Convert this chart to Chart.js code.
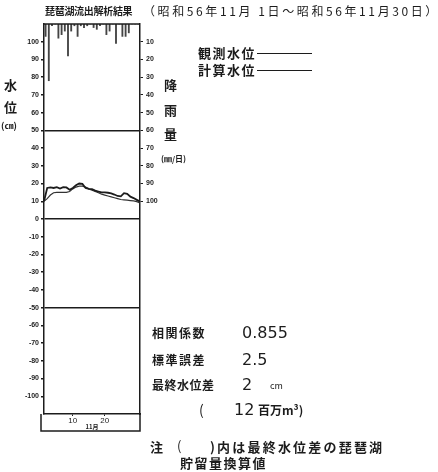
<!DOCTYPE html>
<html>
<head>
<meta charset="utf-8">
<script src="https://cdn.jsdelivr.net/npm/chart.js@4/dist/chart.umd.min.js"></script>
<style>
  html, body { margin: 0; padding: 0; background: #fff; }
  #wrap { position: relative; width: 438px; height: 472px; overflow: hidden;
          font-family: "Noto Sans CJK JP", sans-serif; color: #1c1c1c; }
  #c { position: absolute; left: 0; top: 0; }
  .t { position: absolute; white-space: nowrap; line-height: 1; }
  .b { font-weight: bold; }
  .num { font-family: 'DejaVu Sans', sans-serif; font-size: 16px; }
  .leg { position: absolute; height: 0; border-top: 1.5px solid #1c1c1c; }
</style>
</head>
<body>
<div id="wrap">
  <canvas id="c" width="438" height="472"></canvas>

  <div class="t b" style="left:45px;top:6px;font-size:10px;letter-spacing:-0.3px;">琵琶湖流出解析結果</div>
  <div class="t" style="left:143px;top:5px;font-size:12px;letter-spacing:2.6px;">（昭和56年11月 1日～昭和56年11月30日）</div>

  <div class="t b" style="left:4px;top:78px;font-size:13px;">水</div>
  <div class="t b" style="left:4px;top:100px;font-size:13px;">位</div>
  <div class="t b" style="left:1px;top:121px;font-size:9px;">(㎝)</div>

  <div class="t b" style="left:164px;top:78px;font-size:13px;">降</div>
  <div class="t b" style="left:164px;top:103px;font-size:13px;">雨</div>
  <div class="t b" style="left:164px;top:127px;font-size:13px;">量</div>
  <div class="t b" style="left:161px;top:155px;font-size:8px;">(㎜/日)</div>

  <div class="t b" style="left:198px;top:46px;font-size:13px;letter-spacing:1.5px;">観測水位</div>
  <div class="leg" style="left:257px;top:53px;width:55px;"></div>
  <div class="t b" style="left:198px;top:63px;font-size:13px;letter-spacing:1.5px;">計算水位</div>
  <div class="leg" style="left:257px;top:70px;width:55px;"></div>

  <div class="t b" style="left:152px;top:327px;font-size:12px;letter-spacing:1.5px;">相関係数</div>
  <div class="t num" style="left:242px;top:325px;">0.855</div>
  <div class="t b" style="left:152px;top:354px;font-size:12px;letter-spacing:1.5px;">標準誤差</div>
  <div class="t num" style="left:242px;top:352px;">2.5</div>
  <div class="t b" style="left:152px;top:379px;font-size:12px;letter-spacing:0.5px;">最終水位差</div>
  <div class="t num" style="left:242px;top:377px;">2</div>
  <div class="t" style="left:270px;top:381px;font-size:9px;">cm</div>
  <div class="t" style="left:199px;top:402px;font-size:14px;">(</div>
  <div class="t num" style="left:234px;top:402px;">12</div>
  <div class="t b" style="left:258px;top:404px;font-size:12px;">百万m³)</div>

  <div class="t b" style="left:150px;top:440px;font-size:13px;">注</div>
  <div class="t" style="left:177px;top:439px;font-size:13px;">(</div>
  <div class="t b" style="left:210px;top:440px;font-size:13px;letter-spacing:2.2px;">)内は最終水位差の琵琶湖</div>
  <div class="t b" style="left:180px;top:456px;font-size:13px;letter-spacing:1.5px;">貯留量換算値</div>
</div>

<script>
// Daily rainfall, 1-30 November (mm/day)
const rainDays = [1, 2, 3, 4, 5, 6, 7, 8, 9, 10, 11, 12, 13, 14, 15,
                  16, 17, 18, 19, 20, 21, 22, 23, 24, 25, 26, 27, 28, 29, 30];
const rainfall = [7, 32, 1, 0, 8, 6, 4, 18, 4, 1, 7, 1, 2, 1, 0,
                  2, 3, 1, 0, 6, 4, 0, 11, 0, 7, 7, 5, 0, 0, 0];

// Lake level at the start of each day, 1 Nov - 1 Dec (cm)
const levelTimes = [1, 2, 3, 4, 5, 6, 7, 8, 9, 10, 11, 12, 13, 14, 15, 16,
                    17, 18, 19, 20, 21, 22, 23, 24, 25, 26, 27, 28, 29, 30, 31];
const observedLevel = [10, 17.5, 17.8, 17.5, 18, 17.2, 18, 17.8, 16.5, 17.5, 19, 20, 19.8, 17.5, 17, 16.8,
                       16, 15.5, 15, 15, 14.8, 14.5, 13.8, 13, 12.8, 14.6, 14.2, 12.6, 11.8, 10.8, 9.8];
const computedLevel = [10, 11.5, 13.5, 14.8, 15, 15, 15, 15, 15.5, 17, 18, 18.5, 18.5, 18, 17, 16.2,
                       15.5, 14.8, 14, 13.5, 13, 12.5, 12, 11.5, 11, 10.8, 10.6, 10.4, 10.2, 9.8, 9];

// Tick labels
const levelTicks = [100, 90, 80, 70, 60, 50, 40, 30, 20, 10, 0,
                    -10, -20, -30, -40, -50, -60, -70, -80, -90, -100];
const rainTicks = [10, 20, 30, 40, 50, 60, 70, 80, 90, 100];
const dayTicks = [10, 20];
const levelGridLines = [50, 0, -50];
const monthLabel = '11月';

const INK = '#1c1c1c';
const tickFont = { family: "'Liberation Sans', sans-serif", size: 7, weight: 'bold' };

// Frame around the plot plus the date box beneath it
const framePlugin = {
  id: 'frame',
  afterDraw(chart) {
    const { ctx, chartArea: a } = chart;
    ctx.save();
    ctx.strokeStyle = INK;
    ctx.lineWidth = 1.5;
    ctx.beginPath();
    ctx.moveTo(a.left, a.top); ctx.lineTo(a.right, a.top);
    ctx.stroke();
    const boxBottom = a.bottom + 17;
    ctx.beginPath();
    ctx.moveTo(a.left - 3, a.bottom);
    ctx.lineTo(a.left - 3, boxBottom);
    ctx.lineTo(a.right, boxBottom);
    ctx.lineTo(a.right, a.bottom);
    ctx.stroke();
    ctx.fillStyle = INK;
    ctx.font = "bold 6px 'Noto Sans CJK JP', sans-serif";
    ctx.textAlign = 'center';
    ctx.textBaseline = 'middle';
    ctx.fillText(monthLabel, (a.left + a.right) / 2, a.bottom + 13);
    ctx.restore();
  }
};

new Chart(document.getElementById('c'), {
  type: 'bar',
  data: {
    datasets: [
      {
        type: 'bar',
        label: '降雨量',
        data: rainDays.map((d, i) => ({ x: d + 0.5, y: rainfall[i] })),
        xAxisID: 'x',
        yAxisID: 'rain',
        backgroundColor: '#444',
        barThickness: 1.2,
        order: 3
      },
      {
        type: 'line',
        label: '観測水位',
        data: levelTimes.map((t, i) => ({ x: t, y: observedLevel[i] })),
        xAxisID: 'x',
        yAxisID: 'y',
        borderColor: INK,
        borderWidth: 1.8,
        pointRadius: 0,
        tension: 0,
        order: 1
      },
      {
        type: 'line',
        label: '計算水位',
        data: levelTimes.map((t, i) => ({ x: t, y: computedLevel[i] })),
        xAxisID: 'x',
        yAxisID: 'y',
        borderColor: '#333',
        borderWidth: 1.2,
        pointRadius: 0,
        tension: 0,
        order: 2
      }
    ]
  },
  options: {
    responsive: false,
    animation: false,
    devicePixelRatio: 1,
    layout: { padding: { top: 24, left: 0, right: 0, bottom: 0 } },
    plugins: { legend: { display: false }, tooltip: { enabled: false } },
    scales: {
      x: {
        type: 'linear',
        position: 'bottom',
        min: 1,
        max: 31,
        offset: false,
        afterFit(s) { s.height = 58; },
        afterBuildTicks(s) { s.ticks = dayTicks.map(v => ({ value: v })); },
        ticks: { font: { family: "'Liberation Sans', sans-serif", size: 8 }, color: INK, padding: 0, maxRotation: 0 },
        grid: { display: true, drawOnChartArea: false, offset: false, tickLength: 2, color: INK, tickColor: INK },
        border: { display: true, color: INK, width: 1.5 }
      },
      y: {
        type: 'linear',
        position: 'left',
        min: -110,
        max: 110,
        afterFit(s) { s.width = 44; },
        afterBuildTicks(s) { s.ticks = levelTicks.map(v => ({ value: v })); },
        ticks: { font: tickFont, color: INK, padding: 2, autoSkip: false },
        grid: {
          drawOnChartArea: true,
          tickLength: 3,
          tickColor: INK,
          lineWidth: 1.5,
          color: c => (c.tick && levelGridLines.includes(c.tick.value)) ? INK : 'rgba(0,0,0,0)'
        },
        border: { display: true, color: INK, width: 1.5 }
      },
      rain: {
        type: 'linear',
        position: 'right',
        reverse: true,
        min: 0,
        max: 220,
        afterFit(s) { s.width = 298; },
        afterBuildTicks(s) { s.ticks = rainTicks.map(v => ({ value: v })); },
        ticks: { font: tickFont, color: INK, padding: 3, autoSkip: false },
        grid: { drawOnChartArea: false, tickLength: 3, tickColor: INK },
        border: { display: true, color: INK, width: 1.5 }
      }
    }
  },
  plugins: [framePlugin]
});
</script>
</body>
</html>
